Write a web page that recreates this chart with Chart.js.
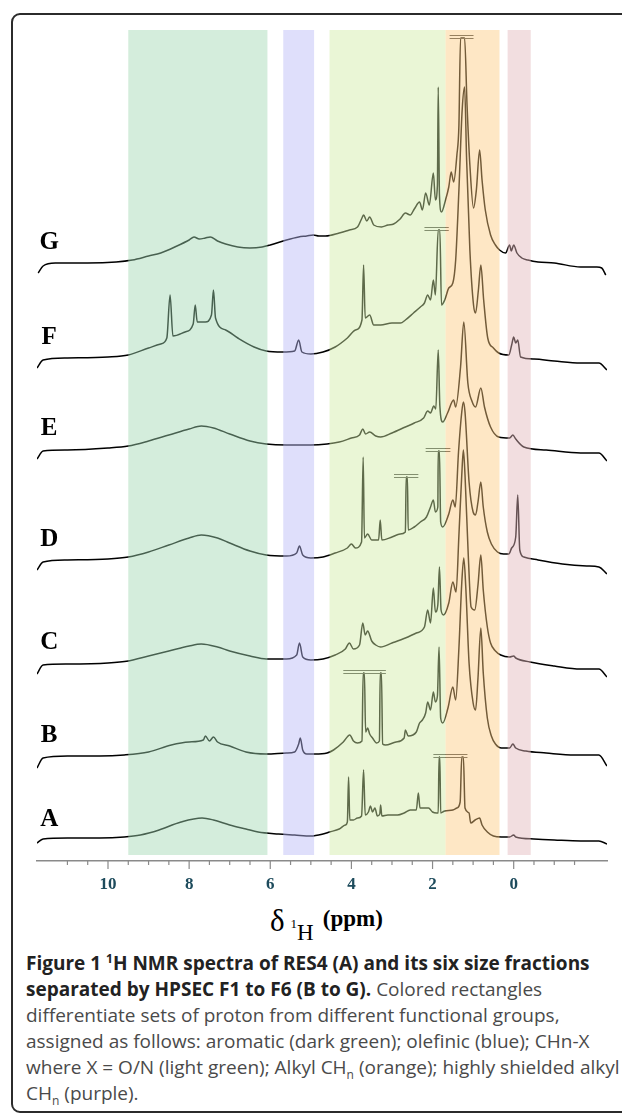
<!DOCTYPE html>
<html>
<head>
<meta charset="utf-8">
<script src="https://cdn.jsdelivr.net/npm/chart.js@4.4.1/dist/chart.umd.min.js"></script>
<style>
  body { margin: 0; background: #fff; width: 622px; height: 1114px; overflow: hidden; position: relative; }
  #frame { position: absolute; left: 11px; top: 13px; width: 700px; height: 1096px; border: 2px solid #2b2b2b; border-radius: 9px; }
  #wrap { position: absolute; left: 0; top: 0; width: 622px; height: 901px; }
  #title { position: absolute; left: 270px; top: 905px; line-height: 1; white-space: nowrap; font-family: "Liberation Serif", serif; color: #000; }
  #title .d { font-size: 31px; }
  #title .one { font-size: 13px; vertical-align: 3px; margin-left: 6px; }
  #title .h { font-size: 23px; vertical-align: -9px; }
  #title .ppm { font-size: 23px; font-weight: bold; vertical-align: 5px; margin-left: 9px; }
  #caption { position: absolute; left: 26px; top: 950px; font-family: "Open Sans", sans-serif; font-size: 19px; line-height: 26px; color: #4a4a4a; white-space: nowrap; }
  #caption b { color: #222; }
  #caption sup, #caption sub { font-size: 12px; line-height: 0; }
</style>
</head>
<body>
<div id="frame"></div>
<div id="wrap"><canvas id="nmr" width="622" height="901"></canvas></div>
<div id="title"><span class="d">δ</span><span class="one">1</span><span class="h">H</span><span class="ppm">(ppm)</span></div>
<div id="caption">
  <div><b>Figure 1 <sup>1</sup>H NMR spectra of RES4 (A) and its six size fractions</b></div>
  <div><b>separated by HPSEC F1 to F6 (B to G).</b> Colored rectangles</div>
  <div>differentiate sets of proton from different functional groups,</div>
  <div>assigned as follows: aromatic (dark green); olefinic (blue); CHn-X</div>
  <div>where X = O/N (light green); Alkyl CH<sub>n</sub> (orange); highly shielded alkyl</div>
  <div>CH<sub>n</sub> (purple).</div>
</div>
<script>
// spectra as [ppm, intensity above own baseline]
const specA = [[11.75,-1],[11.6,3],[11.0,4],[10.2,4],[9.6,5],[9.2,7],[8.74,12],[8.2,20],[7.68,24],[7.4,22],[7.0,17],[6.6,13],[6.3,10],[5.8,8],[5.4,7],[5.0,6],[4.7,8],[4.54,10],[4.3,13],[4.15,17],[4.1,20],[4.07,65],[4.04,22],[3.95,22],[3.85,24],[3.75,26],[3.7,72],[3.66,27],[3.58,30],[3.53,36],[3.48,30],[3.42,34],[3.36,26],[3.3,28],[3.28,37],[3.25,26],[3.1,27],[2.86,27],[2.7,29],[2.55,32],[2.4,32],[2.35,49],[2.31,34],[2.2,34],[2.1,34],[2.0,30],[1.9,29],[1.86,29],[1.84,85],[1.82,85],[1.8,29],[1.7,31],[1.5,32],[1.4,34],[1.32,40],[1.28,85],[1.24,85],[1.2,34],[1.1,29],[1.06,19],[0.95,22],[0.84,24],[0.78,17],[0.65,10],[0.5,6],[0.3,5],[0.1,5],[0.0,7],[-0.05,5],[-0.5,3],[-1.0,2],[-1.65,1],[-2.1,1],[-2.3,-2]];
const specB = [[11.75,-10],[11.6,0],[11.0,2],[10.2,2],[9.6,3],[9.0,6],[8.44,13],[8.0,16],[7.65,18],[7.6,22],[7.5,17],[7.4,21],[7.3,16],[7.0,12],[6.6,6],[6.1,4],[5.6,5],[5.4,6],[5.3,14],[5.26,20],[5.2,8],[5.1,4],[4.9,4],[4.6,5],[4.44,8],[4.2,16],[4.04,23],[3.95,17],[3.85,15],[3.74,17],[3.71,85],[3.68,85],[3.65,26],[3.6,30],[3.55,24],[3.48,20],[3.38,15],[3.31,17],[3.29,85],[3.26,85],[3.23,14],[3.16,13],[2.9,16],[2.7,20],[2.67,28],[2.6,22],[2.4,26],[2.32,35],[2.25,38],[2.17,45],[2.12,56],[2.05,48],[1.98,66],[1.93,56],[1.88,62],[1.84,111],[1.8,40],[1.75,35],[1.62,50],[1.5,71],[1.43,58],[1.35,110],[1.28,175],[1.23,200],[1.18,170],[1.1,95],[1.0,55],[0.94,48],[0.88,80],[0.81,130],[0.75,85],[0.65,40],[0.55,22],[0.45,14],[0.3,10],[0.1,10],[0.02,14],[-0.05,10],[-0.3,7],[-0.8,5],[-1.5,3],[-2.1,3],[-2.3,-8]];
const specC = [[11.75,-9],[11.6,0],[11.0,1],[10.0,2],[9.5,4],[9.0,9],[8.5,14],[8.0,19],[7.7,21],[7.3,18],[7.0,14],[6.5,9],[6.1,6],[5.6,6],[5.35,10],[5.28,22],[5.2,8],[5.0,5],[4.7,6],[4.4,10],[4.15,16],[4.05,22],[3.95,16],[3.8,20],[3.72,42],[3.66,30],[3.6,34],[3.5,24],[3.4,20],[3.28,18],[3.0,22],[2.67,27],[2.4,32],[2.2,38],[2.12,55],[2.05,42],[1.98,77],[1.93,53],[1.87,60],[1.83,98],[1.79,55],[1.73,50],[1.6,62],[1.5,83],[1.42,73],[1.35,130],[1.28,190],[1.24,215],[1.2,190],[1.12,110],[1.05,58],[0.96,55],[0.88,80],[0.81,110],[0.75,75],[0.65,38],[0.57,22],[0.45,14],[0.32,10],[0.1,8],[0.0,9],[-0.05,7],[-0.4,3],[-1.0,-1],[-1.65,-4],[-2.1,-4],[-2.3,-12]];
const specD = [[11.75,-8],[11.6,0],[11.0,2],[10.0,3],[9.5,5],[9.0,10],[8.5,17],[8.0,24],[7.7,27],[7.3,24],[7.0,19],[6.5,11],[6.1,7],[5.6,6],[5.35,9],[5.28,16],[5.2,7],[5.0,4],[4.7,5],[4.4,9],[4.1,14],[4.0,18],[3.9,14],[3.75,20],[3.71,105],[3.68,24],[3.6,28],[3.5,22],[3.33,22],[3.29,42],[3.25,22],[3.0,25],[2.8,28],[2.67,30],[2.65,85],[2.62,85],[2.6,32],[2.45,35],[2.3,40],[2.15,45],[2.05,55],[1.98,62],[1.93,50],[1.87,55],[1.86,111],[1.83,111],[1.8,40],[1.75,35],[1.6,48],[1.5,62],[1.44,55],[1.36,110],[1.28,150],[1.24,160],[1.2,150],[1.1,80],[1.0,50],[0.94,47],[0.88,60],[0.81,80],[0.75,55],[0.65,30],[0.55,18],[0.4,10],[0.25,8],[0.12,8],[0.05,14],[-0.05,25],[-0.1,67],[-0.15,12],[-0.25,5],[-0.6,2],[-1.2,-2],[-1.8,-4],[-2.1,-5],[-2.3,-12]];
const specE = [[11.75,-8],[11.6,0],[11.0,1],[10.0,3],[9.5,5],[9.0,10],[8.5,16],[8.0,22],[7.7,25],[7.4,23],[7.0,17],[6.5,10],[6.1,7],[5.6,6],[5.0,6],[4.6,7],[4.3,9],[4.0,13],[3.8,16],[3.72,22],[3.65,17],[3.55,19],[3.4,15],[3.28,14],[3.0,18],[2.67,24],[2.45,28],[2.22,33],[2.12,40],[2.05,38],[1.97,45],[1.92,42],[1.86,101],[1.82,45],[1.75,29],[1.63,38],[1.48,51],[1.43,44],[1.31,84],[1.23,129],[1.13,68],[1.03,50],[0.94,44],[0.81,63],[0.72,44],[0.57,24],[0.37,14],[0.1,13],[0.02,16],[-0.05,12],[-0.25,4],[-0.8,1],[-1.65,-2],[-2.1,-2],[-2.3,-10]];
const specF = [[11.75,-8],[11.6,0],[11.0,2],[10.0,3],[9.5,5],[9.0,12],[8.7,16],[8.55,22],[8.47,65],[8.4,24],[8.1,28],[7.9,36],[7.85,55],[7.8,38],[7.6,38],[7.45,45],[7.4,70],[7.35,42],[7.1,30],[6.8,22],[6.4,13],[6.1,9],[5.7,8],[5.4,9],[5.3,20],[5.22,8],[5.0,6],[4.7,8],[4.4,13],[4.1,22],[3.9,30],[3.74,40],[3.7,95],[3.66,42],[3.55,45],[3.45,35],[3.28,35],[3.0,37],[2.79,37],[2.67,40],[2.47,47],[2.3,53],[2.2,57],[2.12,65],[2.05,60],[1.98,80],[1.93,65],[1.86,130],[1.82,130],[1.78,55],[1.7,60],[1.6,72],[1.5,77],[1.43,100],[1.35,170],[1.27,250],[1.21,273],[1.16,200],[1.08,110],[0.99,55],[0.94,47],[0.87,70],[0.81,95],[0.74,60],[0.64,22],[0.5,12],[0.37,7],[0.12,5],[0.05,15],[0.0,23],[-0.05,17],[-0.1,20],[-0.17,3],[-0.5,1],[-1.0,-1],[-1.65,-3],[-2.1,-3],[-2.3,-10]];
const specG = [[11.72,-8],[11.6,-1],[11.3,2],[10.5,2],[9.8,3],[9.4,5],[9.0,9],[8.7,12],[8.3,19],[8.0,25],[7.88,28],[7.75,26],[7.6,27],[7.48,28],[7.3,24],[7.1,21],[6.8,18],[6.5,17],[6.2,18],[6.0,20],[5.6,25],[5.3,28],[5.1,29],[4.94,30],[4.8,29],[4.64,29],[4.3,32],[4.05,35],[3.85,38],[3.74,47],[3.7,50],[3.62,44],[3.55,48],[3.45,40],[3.26,38],[3.1,40],[2.96,41],[2.8,46],[2.67,52],[2.55,50],[2.45,56],[2.32,63],[2.25,55],[2.17,72],[2.08,60],[1.98,92],[1.93,65],[1.88,80],[1.86,178],[1.83,70],[1.78,53],[1.68,65],[1.6,78],[1.54,93],[1.48,83],[1.4,110],[1.35,140],[1.31,227],[1.21,227],[1.15,160],[1.08,100],[0.99,57],[0.92,75],[0.84,115],[0.78,85],[0.7,55],[0.57,30],[0.45,20],[0.35,15],[0.2,12],[0.1,20],[0.06,14],[0.0,20],[-0.08,12],[-0.2,7],[-0.35,5],[-0.6,3],[-1.0,2],[-1.65,-2],[-2.05,-2],[-2.17,-3],[-2.27,-10]];

const seriesNames = ['A', 'B', 'C', 'D', 'E', 'F', 'G'];
const seriesData = [specA, specB, specC, specD, specE, specF, specG];
const baselines = [19, 103, 196, 299, 410, 501, 596]; // vertical offset of each trace

// truncated peaks (double bar)
const cutSeries = ['G', 'F', 'D', 'D', 'B', 'A'];
const cutFrom = [1.58, 2.2, 2.95, 2.17, 4.2, 1.98];
const cutTo = [0.99, 1.6, 2.35, 1.56, 3.15, 1.14];
const cutLevel = [227, 130, 85, 111, 85, 85];

// functional group regions (ppm)
const bandFrom = [9.5, 5.68, 4.54, 1.68, 0.15];
const bandTo = [6.07, 4.92, 1.68, 0.35, -0.42];
const bandColors = ['rgba(160,214,178,0.45)', 'rgba(184,184,247,0.45)', 'rgba(209,234,165,0.45)', 'rgba(252,201,126,0.45)', 'rgba(227,182,186,0.45)'];

const xMin = -2.3, xMax = 11.75;

const overlayPlugin = {
    id: 'overlay',
    afterDatasetsDraw(chart) {
        const ctx = chart.ctx;
        const xs = chart.scales.x, ys = chart.scales.y;
        const area = chart.chartArea;
        ctx.save();
        // double bars over clipped peaks
        ctx.strokeStyle = '#444';
        ctx.lineWidth = 1;
        for (let i = 0; i < cutSeries.length; i++) {
            const b = baselines[seriesNames.indexOf(cutSeries[i])];
            const x1 = xs.getPixelForValue(cutFrom[i]);
            const x2 = xs.getPixelForValue(cutTo[i]);
            [0, 3].forEach(d => {
                const y = Math.round(ys.getPixelForValue(b + cutLevel[i] + d)) + 0.5;
                ctx.beginPath();
                ctx.moveTo(x1, y);
                ctx.lineTo(x2, y);
                ctx.stroke();
            });
        }
        // coloured regions
        for (let i = 0; i < bandFrom.length; i++) {
            const x1 = xs.getPixelForValue(bandFrom[i]);
            const x2 = xs.getPixelForValue(bandTo[i]);
            ctx.fillStyle = bandColors[i];
            ctx.fillRect(x1, area.top, x2 - x1, area.bottom - 6 - area.top);
        }
        // trace letters
        ctx.fillStyle = '#000';
        ctx.font = 'bold 25px "Liberation Serif"';
        ctx.textAlign = 'center';
        ctx.textBaseline = 'middle';
        for (let i = 0; i < seriesNames.length; i++) {
            ctx.fillText(seriesNames[i], xs.getPixelForValue(11.45), ys.getPixelForValue(baselines[i] + 22));
        }
        // axis ticks
        ctx.strokeStyle = '#8a8a8a';
        ctx.lineWidth = 1.2;
        xs.ticks.forEach(t => {
            const v = t.value;
            if (Math.abs(v * 2 - Math.round(v * 2)) > 1e-6) return;
            const x = xs.getPixelForValue(v);
            const len = (Math.abs(v % 2) < 1e-6) ? 8 : 4;
            ctx.beginPath();
            ctx.moveTo(x, xs.top);
            ctx.lineTo(x, xs.top + len);
            ctx.stroke();
        });
        ctx.restore();
    }
};

new Chart(document.getElementById('nmr'), {
    type: 'line',
    data: {
        datasets: seriesData.map((s, i) => ({
            label: seriesNames[i],
            data: s.map(p => ({x: p[0], y: baselines[i] + p[1]})),
            borderColor: '#000',
            borderWidth: 1.5,
            pointRadius: 0,
            cubicInterpolationMode: 'monotone',
            fill: false
        }))
    },
    options: {
        responsive: false,
        animation: false,
        devicePixelRatio: 1,
        layout: { padding: { left: 37, right: 15, top: 30, bottom: 0 } },
        plugins: { legend: { display: false }, tooltip: { enabled: false } },
        scales: {
            x: {
                type: 'linear',
                reverse: true,
                min: xMin,
                max: xMax,
                grid: { display: false },
                border: { display: true, color: '#8a8a8a', width: 1.5 },
                afterFit: s => { s.height = 40; },
                ticks: {
                    stepSize: 0.5,
                    autoSkip: false,
                    maxRotation: 0,
                    padding: 5,
                    color: '#1d4b5c',
                    font: { family: 'Liberation Serif', weight: 'bold', size: 17 },
                    callback: v => (Math.abs(v % 2) < 1e-6 && v >= 0 && v <= 10) ? String(Math.round(v)) : ''
                }
            },
            y: { display: false, min: 0, max: 831 }
        }
    },
    plugins: [overlayPlugin]
});
</script>
</body>
</html>
